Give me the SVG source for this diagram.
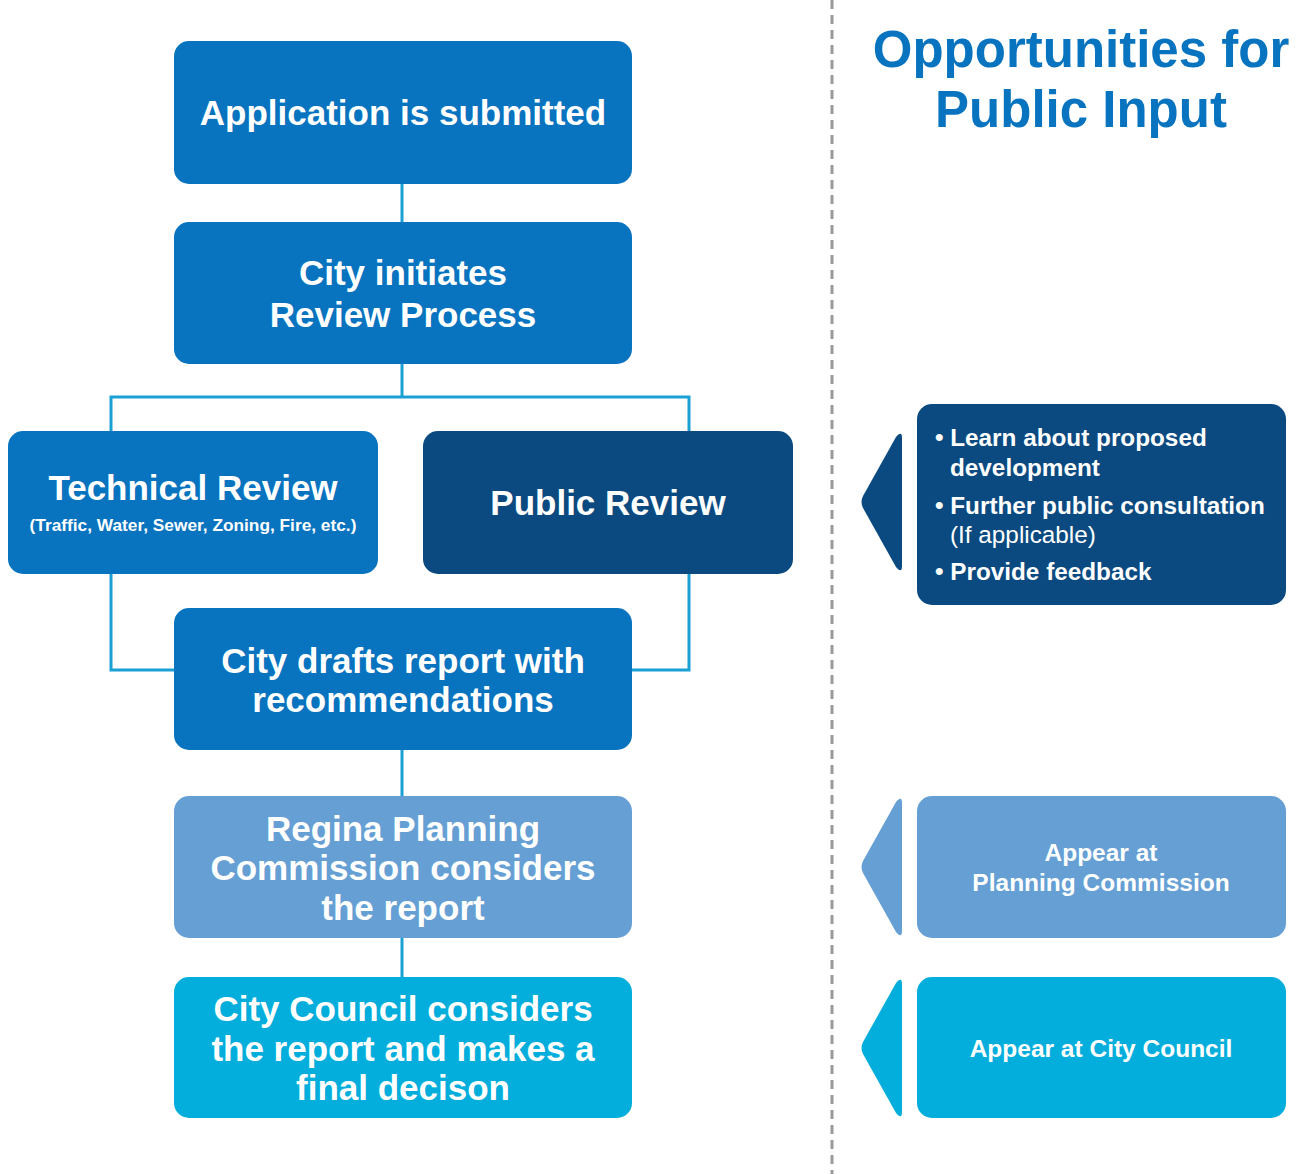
<svg xmlns="http://www.w3.org/2000/svg" width="1303" height="1174" viewBox="0 0 1303 1174">
<style>
.t{font-family:"Liberation Sans",Arial,sans-serif;font-weight:bold;fill:#fff;text-anchor:middle}
.b{font-family:"Liberation Sans",Arial,sans-serif;font-weight:bold;fill:#fff;font-size:24.3px}
.c{fill:none;stroke:#1AA0D5;stroke-width:3}
.mid{fill:#0873BF}
.dark{fill:#0B4A80}
.light{fill:#659FD4}
.cyan{fill:#03AEDC}
</style>
<rect width="1303" height="1174" fill="#fff"/>
<line x1="832" y1="0" x2="832" y2="1174" stroke="#9A9A9A" stroke-width="3" stroke-dasharray="9 6"/>
<g id="connectors">
<path class="c" d="M402 184V222"/>
<path class="c" d="M402 364V397"/>
<path class="c" d="M111 431V397H689V431"/>
<path class="c" d="M111 574V670H174"/>
<path class="c" d="M689 574V670H632"/>
<path class="c" d="M402 750V796"/>
<path class="c" d="M402 938V977"/>
</g>
<g id="n1"><rect class="mid" x="174" y="41" width="458" height="143" rx="15"/>
<text class="t" x="403" y="125" font-size="35">Application is submitted</text></g>
<g id="n2"><rect class="mid" x="174" y="222" width="458" height="142" rx="15"/>
<text class="t" x="403" y="285" font-size="35">City initiates</text>
<text class="t" x="403" y="327" font-size="35">Review Process</text></g>
<g id="n3"><rect class="mid" x="8" y="431" width="370" height="143" rx="15"/>
<text class="t" x="193" y="500" font-size="35">Technical Review</text>
<text class="t" x="193" y="531" font-size="17.3">(Traffic, Water, Sewer, Zoning, Fire, etc.)</text></g>
<g id="n4"><rect class="dark" x="423" y="431" width="370" height="143" rx="15"/>
<text class="t" x="608" y="515" font-size="35">Public Review</text></g>
<g id="n5"><rect class="mid" x="174" y="608" width="458" height="142" rx="15"/>
<text class="t" x="403" y="673" font-size="35">City drafts report with</text>
<text class="t" x="403" y="712" font-size="35">recommendations</text></g>
<g id="n6"><rect class="light" x="174" y="796" width="458" height="142" rx="15"/>
<text class="t" x="403" y="841" font-size="35">Regina Planning</text>
<text class="t" x="403" y="880" font-size="35">Commission considers</text>
<text class="t" x="403" y="920" font-size="35">the report</text></g>
<g id="n7"><rect class="cyan" x="174" y="977" width="458" height="141" rx="15"/>
<text class="t" x="403" y="1021" font-size="35">City Council considers</text>
<text class="t" x="403" y="1061" font-size="35">the report and makes a</text>
<text class="t" x="403" y="1100" font-size="35">final decison</text></g>
<g id="title">
<text x="1081" y="67" font-family="Liberation Sans,Arial,sans-serif" font-weight="bold" font-size="51" fill="#0873BF" text-anchor="middle">Opportunities for</text>
<text x="1081" y="127" font-family="Liberation Sans,Arial,sans-serif" font-weight="bold" font-size="51" fill="#0873BF" text-anchor="middle">Public Input</text>
</g>
<g id="p1">
<path class="dark" d="M902 438Q902 430 896 437L863 496Q860 502 863 508L896 567Q902 574 902 566Z"/>
<rect class="dark" x="917" y="404" width="369" height="201" rx="15"/>
<text class="b" x="935" y="446">• Learn about proposed</text>
<text class="b" x="950" y="476">development</text>
<text class="b" x="935" y="514">• Further public consultation</text>
<text x="950" y="543" font-family="Liberation Sans,Arial,sans-serif" font-size="24.3" fill="#fff">(If applicable)</text>
<text class="b" x="935" y="580">• Provide feedback</text>
</g>
<g id="p2">
<path class="light" d="M902 803Q902 795 896 802L863 861Q860 867 863 873L896 932Q902 939 902 931Z"/>
<rect class="light" x="917" y="796" width="369" height="142" rx="15"/>
<text class="t" x="1101" y="861" font-size="24.5">Appear at</text>
<text class="t" x="1101" y="891" font-size="24.5">Planning Commission</text>
</g>
<g id="p3">
<path class="cyan" d="M902 984Q902 976 896 983L863 1042Q860 1048 863 1054L896 1113Q902 1120 902 1112Z"/>
<rect class="cyan" x="917" y="977" width="369" height="141" rx="15"/>
<text class="t" x="1101" y="1057" font-size="24.5">Appear at City Council</text>
</g>
</svg>
